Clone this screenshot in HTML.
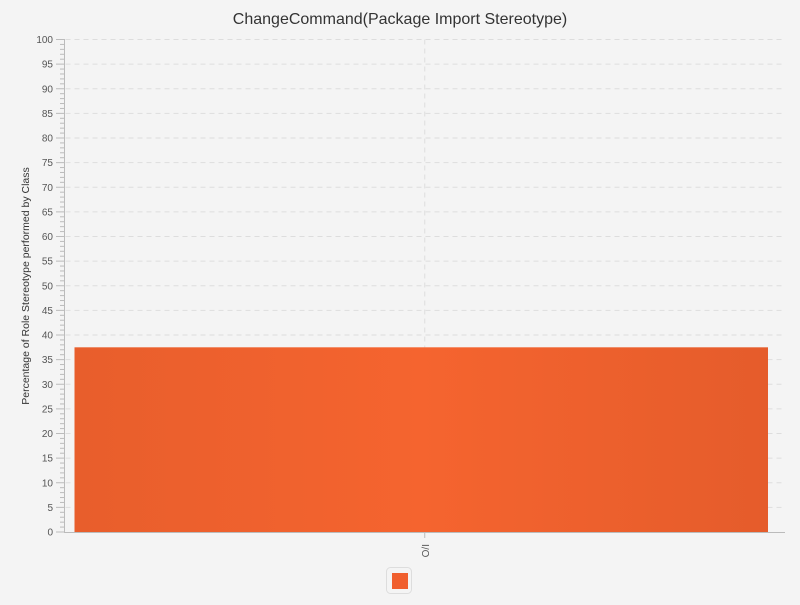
<!DOCTYPE html>
<html><head><meta charset="utf-8"><style>
body{margin:0;background:#f4f4f4;font-family:"Liberation Sans",sans-serif}
</style></head><body>
<svg width="800" height="600" xmlns="http://www.w3.org/2000/svg">
<defs><linearGradient id="bg" x1="0" x2="1"><stop offset="0" stop-color="#e85e2c"/><stop offset="0.5" stop-color="#f5642f"/><stop offset="1" stop-color="#e55c2b"/></linearGradient></defs>
<rect width="800" height="600" fill="#f4f4f4"/>
<text x="400" y="24" text-anchor="middle" font-size="16" fill="#333">ChangeCommand(Package Import Stereotype)</text>
<text transform="translate(29,286) rotate(-90)" text-anchor="middle" font-size="10.5" fill="#333">Percentage of Role Stereotype performed by Class</text>
<g id="grid"></g><g id="yaxis"></g><g id="bars"></g>
<line x1="64" y1="532.5" x2="785" y2="532.5" stroke="#bbb"/>
<line x1="64.5" y1="39" x2="64.5" y2="532" stroke="#bbb"/>
<rect x="386.5" y="567.5" width="25" height="26" rx="4" fill="#f4f4f4" stroke="#ddd"/>
<rect x="392" y="573" width="16" height="16" fill="#f05f2e"/>
</svg>
<script>
const categories=["O/I"];
const values=[37.5];
const yTicks=[0,5,10,15,20,25,30,35,40,45,50,55,60,65,70,75,80,85,90,95,100];
const NS="http://www.w3.org/2000/svg";
const x0=64.5,x1=785,yTop=39.5,yBot=532;
const y=v=>yBot-(v/100)*(yBot-yTop);
function mk(t,a,p){const e=document.createElementNS(NS,t);for(const k in a)e.setAttribute(k,a[k]);p.appendChild(e);return e;}
const grid=document.getElementById('grid'),ya=document.getElementById('yaxis'),bars=document.getElementById('bars');
const bw=(x1-x0)/categories.length;
categories.forEach((c,i)=>{const cx=x0+bw*(i+0.5);
 const g=mk('line',{x1:cx,y1:yTop,x2:cx,y2:yBot,stroke:'#ddd','stroke-dasharray':'5,4'},grid);
 
 
 const t=mk('line',{x1:cx,y1:yBot,x2:cx,y2:yBot+6,stroke:'#bbb'},ya);
 
 
 const l=mk('text',{transform:`translate(${cx+4},544) rotate(-90)`,'text-anchor':'end','font-size':'10',fill:'#555'},ya);l.textContent=c;
 
 
 const b=mk('rect',{x:x0+bw*i+10,y:y(values[i]),width:bw-27,height:yBot-y(values[i]),fill:'url(#bg)'},bars);
 
 
});
for(let v=0;v<=100;v++){if(v%5)mk('line',{x1:60,y1:y(v),x2:64,y2:y(v),stroke:'#bbb'},ya);}
yTicks.forEach(v=>{
 if(v>0){const g=mk('line',{x1:x0+1,y1:y(v),x2:x1,y2:y(v),stroke:'#ddd','stroke-dasharray':'5,4'},grid);
 
 }
 const t=mk('line',{x1:56,y1:y(v),x2:64,y2:y(v),stroke:'#bbb'},ya);
 
 
 const l=mk('text',{x:53,y:y(v)+3.5,'text-anchor':'end','font-size':'10',fill:'#555'},ya);l.textContent=v;
 
 
});
</script>
</body></html>
